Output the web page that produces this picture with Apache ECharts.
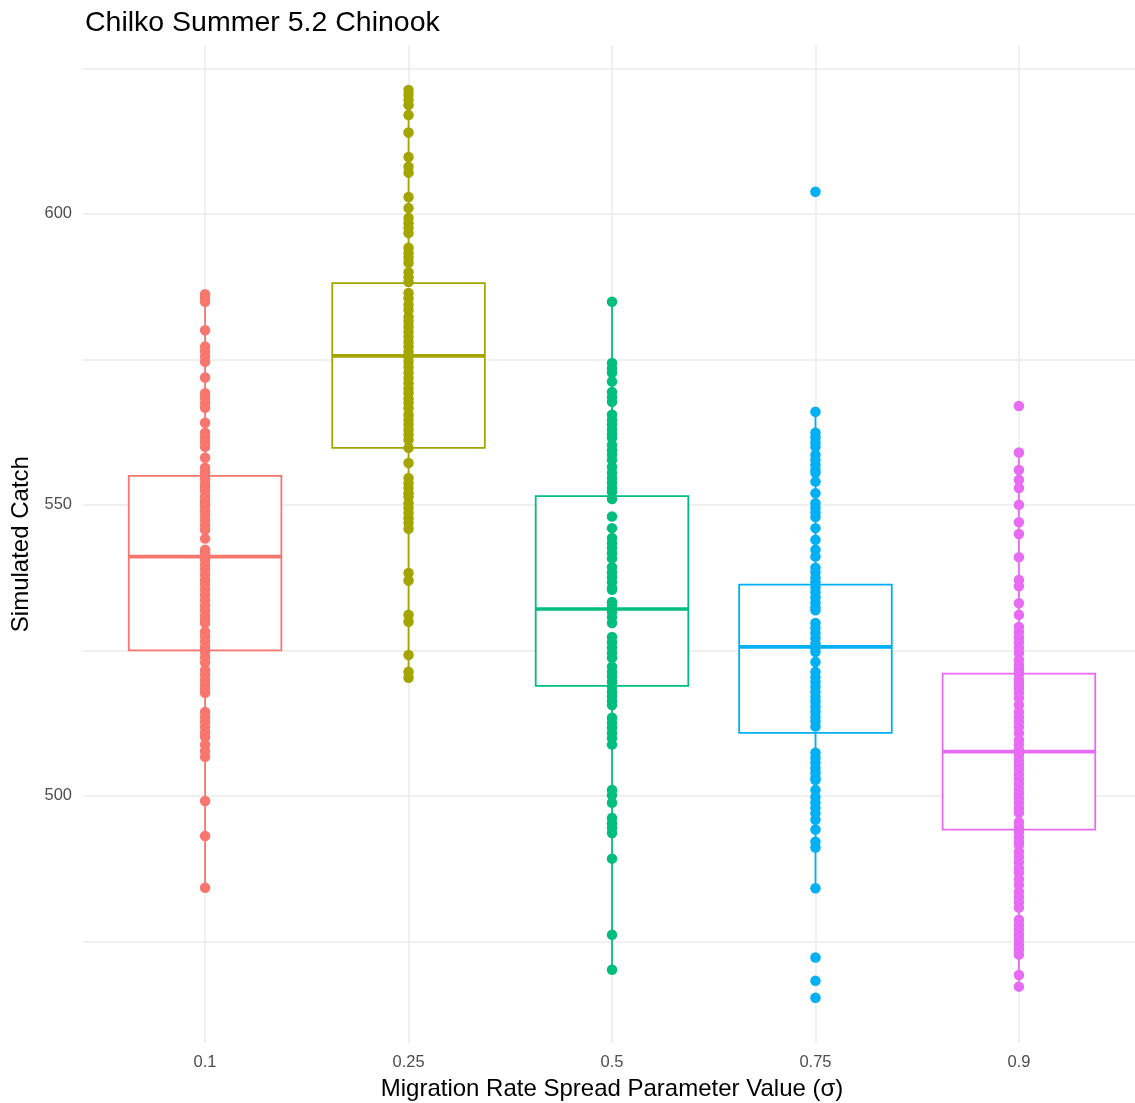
<!DOCTYPE html>
<html>
<head>
<meta charset="utf-8">
<script src="https://cdn.jsdelivr.net/npm/echarts@6/dist/echarts.min.js"></script>
<style>
  html, body { margin: 0; padding: 0; background: #ffffff; }
  #chart { width: 1135px; height: 1103px; }
</style>
</head>
<body>
<div id="chart"></div>
<script>
// Migration rate spread parameter values (sigma)
const categories = ['0.1', '0.25', '0.5', '0.75', '0.9'];
const colors = ['#F8766D', '#A3A500', '#00BF7D', '#00B0F6', '#E76BF3'];

// Simulated catch per parameter value
const catch01 = [586.2, 585.6, 584.9, 580.0, 577.2, 576.4, 575.5, 574.6, 571.9, 569.2, 568.4, 567.5, 566.7, 564.1,
  562.4, 561.6, 560.8, 560.0, 558.1, 556.4, 555.6, 555.0, 554.4, 553.6, 553.0, 552.4, 551.5, 550.7, 550.1, 549.8,
  549.0, 548.2, 547.4, 546.5, 545.7, 544.2, 542.3, 541.8, 541.4, 541.1, 540.6, 539.7, 538.9, 538.0, 537.1, 536.3,
  535.4, 534.5, 533.6, 532.7, 531.9, 531.0, 530.2, 529.7, 528.2, 527.4, 526.5, 525.6, 525.1, 524.7, 523.8, 522.9,
  521.6, 520.8, 519.9, 519.1, 518.4, 517.7, 514.4, 513.5, 512.7, 511.8, 510.9, 510.1, 508.8, 507.7, 506.7, 499.1,
  493.1, 484.2];
const catch025 = [621.3, 620.5, 619.6, 618.7, 617.0, 614.0, 609.8, 608.1, 607.1, 602.9, 601.0, 599.3, 598.4, 597.6,
  596.7, 594.2, 593.3, 592.5, 591.6, 590.0, 589.1, 588.3, 586.4, 585.5, 584.4, 583.5, 582.3, 581.5, 580.6, 579.7,
  578.9, 578.0, 577.2, 576.3, 575.6, 575.4, 574.6, 573.7, 572.7, 571.8, 570.9, 570.0, 569.2, 568.3, 567.5, 566.6,
  565.5, 564.6, 563.8, 562.9, 562.0, 561.2, 559.8, 557.2, 554.6, 553.7, 552.9, 552.0, 551.4, 550.3, 549.5, 548.6,
  547.7, 546.9, 545.9, 538.3, 537.0, 531.1, 529.9, 524.2, 521.3, 520.3];
const catch05 = [584.9, 574.4, 573.5, 572.7, 571.2, 569.4, 568.5, 567.7, 565.5, 564.6, 563.8, 562.9, 562.1, 561.5,
  560.3, 559.4, 558.6, 557.7, 556.5, 555.5, 554.6, 553.8, 552.9, 552.2, 551.0, 548.0, 546.0, 544.3, 543.4, 542.6,
  541.7, 540.8, 539.3, 538.4, 537.6, 536.7, 535.7, 535.4, 533.3, 533.2, 532.4, 532.1, 531.6, 530.7, 529.7, 527.3,
  526.4, 525.5, 524.6, 523.7, 522.2, 521.3, 520.5, 519.6, 518.8, 517.9, 517.1, 516.3, 515.6, 513.4, 512.5, 511.7,
  510.8, 509.9, 508.8, 501.0, 500.1, 498.8, 496.2, 495.3, 494.5, 493.6, 489.2, 476.1, 470.1];
const catch075 = [603.8, 566.0, 562.4, 561.6, 560.7, 560.0, 558.6, 557.7, 556.9, 556.0, 555.5, 554.0, 552.0, 550.3,
  549.5, 548.7, 547.9, 546.0, 544.0, 542.3, 541.1, 539.2, 538.4, 537.5, 536.7, 535.8, 535.0, 534.1, 533.2, 532.4,
  531.9, 529.7, 528.8, 528.0, 527.1, 526.2, 525.6, 525.4, 524.7, 523.0, 521.3, 520.4, 519.6, 518.7, 517.9, 517.0,
  516.2, 515.3, 514.5, 513.6, 512.8, 511.9, 507.4, 506.5, 505.7, 504.8, 504.0, 503.1, 502.7, 501.0, 499.8, 498.8,
  497.9, 497.0, 495.9, 494.2, 492.1, 491.1, 484.1, 472.2, 468.2, 465.3];
const catch09 = [567.0, 559.0, 556.0, 554.3, 552.9, 550.0, 547.0, 545.0, 541.0, 537.1, 536.0, 533.1, 531.1, 529.0,
  528.1, 527.2, 526.4, 525.5, 524.6, 523.4, 522.5, 521.7, 521.1, 520.9, 520.0, 519.4, 519.1, 518.5, 517.7, 516.8,
  515.6, 514.4, 513.5, 512.7, 511.8, 510.8, 509.6, 508.8, 507.9, 507.6, 507.1, 506.2, 505.4, 504.6, 503.7, 502.9,
  502.1, 501.2, 500.4, 499.6, 498.8, 497.9, 497.1, 495.5, 494.7, 493.8, 492.9, 492.1, 491.6, 490.4, 489.5, 488.6,
  487.6, 486.8, 485.7, 484.7, 483.5, 482.6, 481.7, 480.8, 478.7, 477.8, 477.0, 476.1, 475.3, 474.4, 473.6, 472.7,
  469.2, 467.2];
const catchSeries = [catch01, catch025, catch05, catch075, catch09];

// Box summary: whisker ends, quartiles and median
const boxLow    = [484.2, 520.3, 470.1, 484.1, 467.2];
const boxQ1     = [525.0, 559.8, 518.9, 510.8, 494.2];
const boxMedian = [541.1, 575.6, 532.1, 525.6, 507.6];
const boxQ3     = [555.0, 588.1, 551.5, 536.3, 521.0];
const boxHigh   = [586.2, 621.3, 584.9, 566.0, 559.0];

// Axis ticks and grid lines
const yTickLabels = [500, 550, 600];
const yGridValues = [475, 500, 525, 550, 575, 600, 625];
const xPositions = [0, 1, 2, 3, 4];

const FONT = 'Liberation Sans, Arial, Helvetica, sans-serif';
const chart = echarts.init(document.getElementById('chart'), null, { renderer: 'canvas' });

const boxData = categories.map((c, i) => [i, boxLow[i], boxQ1[i], boxMedian[i], boxQ3[i], boxHigh[i]]);

const boxSeries = {
  type: 'custom',
  name: 'box',
  z: 2,
  silent: true,
  encode: { x: 0, y: [1, 5] },
  data: boxData,
  renderItem: function (params, api) {
    const x = api.value(0);
    const lo = api.coord([x, api.value(1)]);
    const q1 = api.coord([x, api.value(2)]);
    const md = api.coord([x, api.value(3)]);
    const q3 = api.coord([x, api.value(4)]);
    const hi = api.coord([x, api.value(5)]);
    const half = api.size([0.375, 0])[0];
    const color = colors[x];
    return {
      type: 'group',
      children: [
        { type: 'line', shape: { x1: lo[0], y1: lo[1], x2: q1[0], y2: q1[1] }, style: { stroke: color, lineWidth: 1.8 } },
        { type: 'line', shape: { x1: q3[0], y1: q3[1], x2: hi[0], y2: hi[1] }, style: { stroke: color, lineWidth: 1.8 } },
        { type: 'rect', shape: { x: q1[0] - half, y: q3[1], width: half * 2, height: q1[1] - q3[1] },
          style: { fill: '#ffffff', stroke: color, lineWidth: 1.8 } },
        { type: 'line', shape: { x1: md[0] - half, y1: md[1], x2: md[0] + half, y2: md[1] },
          style: { stroke: color, lineWidth: 3.6 } }
      ]
    };
  }
};

const pointSeries = catchSeries.map((vals, i) => ({
  type: 'scatter',
  name: categories[i],
  z: 3,
  silent: true,
  symbol: 'circle',
  symbolSize: 10.5,
  itemStyle: { color: colors[i], opacity: 1 },
  data: vals.map(v => [i, v])
}));

chart.setOption({
  animation: false,
  backgroundColor: '#ffffff',
  title: {
    text: 'Chilko Summer 5.2 Chinook',
    left: 80,
    top: 4,
    textStyle: { fontFamily: FONT, fontSize: 28.5, fontWeight: 'normal', color: '#000000' }
  },
  grid: { left: 83, top: 45.2, width: 1058, height: 997.9, containLabel: false, outerBoundsMode: 'none' },
  xAxis: {
    type: 'value',
    min: -0.6,
    max: 4.6,
    name: 'Migration Rate Spread Parameter Value (σ)',
    nameLocation: 'middle',
    nameGap: 34,
    nameTextStyle: { fontFamily: FONT, fontSize: 24, color: '#000000' },
    axisLine: { show: false },
    axisTick: { show: false, customValues: xPositions },
    axisLabel: {
      customValues: xPositions,
      formatter: v => categories[Math.round(v)],
      margin: 11,
      fontFamily: FONT,
      fontSize: 16.5,
      color: '#4d4d4d'
    },
    splitLine: { show: true, lineStyle: { color: '#ebebeb', width: 1.5 } }
  },
  yAxis: {
    type: 'value',
    min: 457.5,
    max: 629,
    name: 'Simulated Catch',
    nameLocation: 'middle',
    nameGap: 49,
    nameRotate: 90,
    nameTextStyle: { fontFamily: FONT, fontSize: 24, color: '#000000' },
    axisLine: { show: false },
    axisTick: { show: false, customValues: yGridValues },
    axisLabel: {
      customValues: yTickLabels,
      margin: 11,
      fontFamily: FONT,
      fontSize: 16.5,
      color: '#4d4d4d'
    },
    splitLine: { show: true, lineStyle: { color: '#ebebeb', width: 1.5 } }
  },
  series: [boxSeries].concat(pointSeries)
});
</script>
</body>
</html>
